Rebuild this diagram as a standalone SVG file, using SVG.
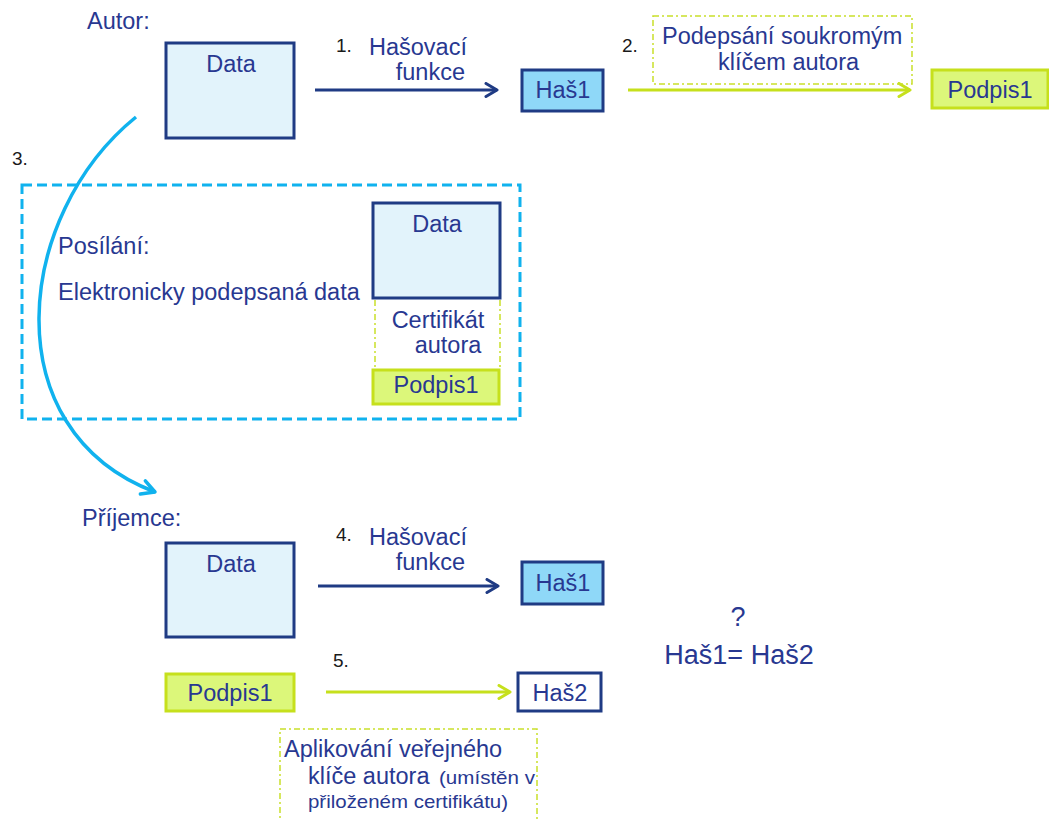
<svg xmlns="http://www.w3.org/2000/svg" width="1049" height="820" viewBox="0 0 1049 820">
  <style>
    text { font-family: "Liberation Sans", Arial, sans-serif; fill: #283891; font-size: 23.5px; }
    .num { fill: #1a1a1a; font-size: 19px; }
    .big { font-size: 27px; }
    .small { font-size: 19px; }
    .mid { text-anchor: middle; }
    .end { text-anchor: end; }
    .data { fill: #e2f3fb; stroke: #1f3b84; stroke-width: 3; }
    .hash { fill: #8fd8f8; stroke: #1f3b84; stroke-width: 3; }
    .hash2 { fill: #ffffff; stroke: #1f3b84; stroke-width: 3; }
    .sig { fill: #dcf77a; stroke: #c6e01c; stroke-width: 3; }
    .note { fill: none; stroke: #c9df2a; stroke-width: 1.5; stroke-dasharray: 6 3 2 3; }
    .navy { stroke: #1f3b84; stroke-width: 3; fill: none; }
    .lime { stroke: #c6e01c; stroke-width: 3; fill: none; }
    .cyan { stroke: #10b2ee; stroke-width: 3.5; fill: none; }
  </style>
  <defs>
    <marker id="ah-navy" markerUnits="userSpaceOnUse" viewBox="0 0 16 16" refX="14" refY="8" markerWidth="16" markerHeight="16" orient="auto">
      <path d="M3,1.5 L14,8 L3,14.5" fill="none" stroke="#1f3b84" stroke-width="3" stroke-linecap="round" stroke-linejoin="round"/>
    </marker>
    <marker id="ah-lime" markerUnits="userSpaceOnUse" viewBox="0 0 16 16" refX="14" refY="8" markerWidth="16" markerHeight="16" orient="auto">
      <path d="M3,1.5 L14,8 L3,14.5" fill="none" stroke="#c6e01c" stroke-width="3" stroke-linecap="round" stroke-linejoin="round"/>
    </marker>
    <marker id="ah-cyan" markerUnits="userSpaceOnUse" viewBox="0 0 18 18" refX="16" refY="9" markerWidth="18" markerHeight="18" orient="auto">
      <path d="M3,2 L16,9 L3,16" fill="none" stroke="#10b2ee" stroke-width="3.5" stroke-linecap="round" stroke-linejoin="round"/>
    </marker>
  </defs>

  <!-- section labels -->
  <text x="87" y="29">Autor:</text>
  <text class="num" x="12" y="165">3.</text>
  <text x="82" y="526">Příjemce:</text>

  <!-- transmission frame -->
  <g id="sending">
    <rect x="22" y="185" width="498" height="234" fill="none" stroke="#10b2ee" stroke-width="3" stroke-dasharray="10 5"/>
    <text x="58" y="254">Posílání:</text>
    <text x="58" y="300">Elektronicky podepsaná data</text>
  </g>

  <!-- connectors -->
  <g id="connectors">
    <path class="cyan" d="M136,117 C15,215 -8,430 155,492" marker-end="url(#ah-cyan)"/>
    <line class="navy" x1="315" y1="90" x2="497" y2="90" marker-end="url(#ah-navy)"/>
    <line class="lime" x1="628" y1="90" x2="910" y2="90" marker-end="url(#ah-lime)"/>
    <line class="navy" x1="318" y1="586" x2="498" y2="586" marker-end="url(#ah-navy)"/>
    <line class="lime" x1="326" y1="692" x2="510" y2="692" marker-end="url(#ah-lime)"/>
  </g>

  <!-- step labels -->
  <g id="step1">
    <text class="num" x="336" y="52">1.</text>
    <text x="369" y="55">Hašovací</text>
    <text class="end" x="465" y="80">funkce</text>
  </g>
  <g id="step2">
    <text class="num" x="622" y="52">2.</text>
    <rect class="note" x="653" y="16" width="259" height="68"/>
    <text x="662" y="44">Podepsání soukromým</text>
    <text x="718" y="70">klíčem autora</text>
  </g>
  <g id="step4">
    <text class="num" x="336" y="541">4.</text>
    <text x="369" y="545">Hašovací</text>
    <text class="end" x="465" y="570">funkce</text>
  </g>
  <g id="step5">
    <text class="num" x="333" y="667">5.</text>
    <rect class="note" x="280" y="729" width="257" height="100"/>
    <text x="284" y="757">Aplikování veřejného</text>
    <text x="308" y="784">klíče autora</text>
    <text class="small" x="439" y="784" textLength="96" lengthAdjust="spacingAndGlyphs">(umístěn v</text>
    <text class="small" x="308" y="808" textLength="200" lengthAdjust="spacingAndGlyphs">přiloženém certifikátu)</text>
  </g>

  <!-- author side -->
  <g id="author-data">
    <rect class="data" x="166" y="43" width="128" height="95"/>
    <text class="mid" x="231" y="72">Data</text>
  </g>
  <g id="author-hash1">
    <rect class="hash" x="522" y="70" width="81" height="41"/>
    <text class="mid" x="563" y="98">Haš1</text>
  </g>
  <g id="author-podpis1">
    <rect class="sig" x="932" y="70" width="116" height="38"/>
    <text class="mid" x="990" y="98">Podpis1</text>
  </g>

  <!-- signed package -->
  <g id="package-data">
    <rect class="data" x="373" y="203" width="127" height="95"/>
    <text class="mid" x="437" y="232">Data</text>
  </g>
  <g id="package-cert">
    <line class="note" x1="375" y1="300" x2="375" y2="370"/>
    <line class="note" x1="500" y1="300" x2="500" y2="370"/>
    <text class="mid" x="438" y="328">Certifikát</text>
    <text class="mid" x="448" y="353">autora</text>
  </g>
  <g id="package-podpis1">
    <rect class="sig" x="373" y="370" width="126" height="34"/>
    <text class="mid" x="436" y="393">Podpis1</text>
  </g>

  <!-- recipient side -->
  <g id="recipient-data">
    <rect class="data" x="166" y="543" width="128" height="94"/>
    <text class="mid" x="231" y="572">Data</text>
  </g>
  <g id="recipient-hash1">
    <rect class="hash" x="522" y="562" width="81" height="42"/>
    <text class="mid" x="563" y="591">Haš1</text>
  </g>
  <g id="recipient-podpis1">
    <rect class="sig" x="166" y="674" width="128" height="37"/>
    <text class="mid" x="230" y="701">Podpis1</text>
  </g>
  <g id="recipient-hash2">
    <rect class="hash2" x="518" y="673" width="83" height="38"/>
    <text class="mid" x="560" y="701">Haš2</text>
  </g>

  <!-- comparison -->
  <g id="compare">
    <text class="mid big" x="738" y="626">?</text>
    <text class="mid big" x="739" y="664">Haš1= Haš2</text>
  </g>
</svg>
